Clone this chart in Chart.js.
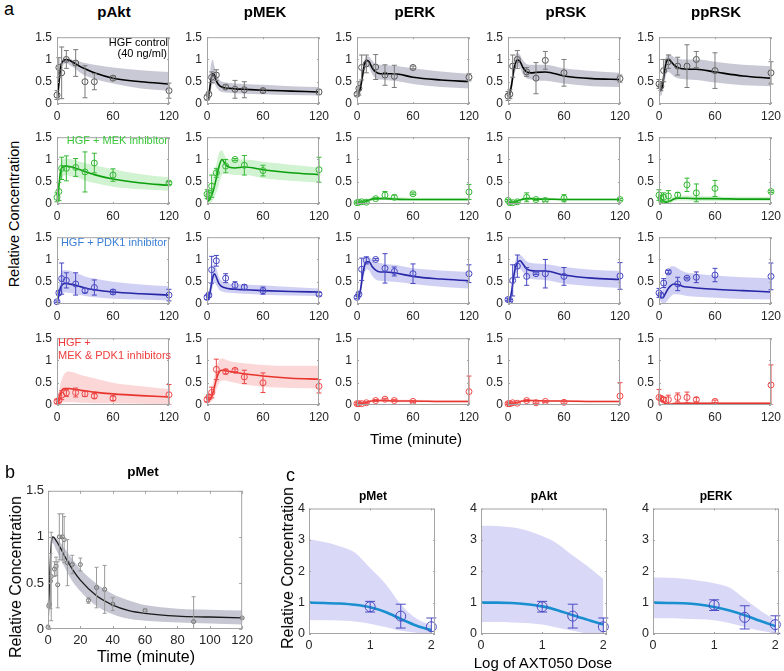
<!DOCTYPE html>
<html>
<head>
<meta charset="utf-8">
<script src="https://cdn.jsdelivr.net/npm/chart.js@4.4.1/dist/chart.umd.min.js"></script>
<style>
  body { margin: 0; background: #fff; width: 784px; height: 671px; position: relative; overflow: hidden;
         font-family: "Liberation Sans", Arial, sans-serif; }
  canvas { position: absolute; }
  .t { position: absolute; white-space: nowrap; line-height: 1; z-index: 2; }
  .c { transform: translate(-50%, -50%); }
  .r { transform: translate(-50%, -50%) rotate(-90deg); }
  .b { font-weight: bold; }
  .lg { font-size: 11px; }
</style>
</head>
<body>

<div class="t" style="left:4px;top:0px;font-size:18px;">a</div>
<div class="t" style="left:5px;top:463px;font-size:18px;">b</div>
<div class="t" style="left:286px;top:466px;font-size:18px;">c</div>

<div class="t c b" style="left:114px;top:11px;font-size:15px;">pAkt</div>
<div class="t c b" style="left:265px;top:11px;font-size:15px;">pMEK</div>
<div class="t c b" style="left:415px;top:11px;font-size:15px;">pERK</div>
<div class="t c b" style="left:566px;top:11px;font-size:15px;">pRSK</div>
<div class="t c b" style="left:716px;top:11px;font-size:15px;">ppRSK</div>

<div class="t r" style="left:14px;top:214px;font-size:14.5px;">Relative Concentration</div>
<div class="t c" style="left:416px;top:438px;font-size:15px;">Time (minute)</div>

<div class="t lg" style="right:616px;top:37px;">HGF control</div>
<div class="t lg" style="right:617px;top:48px;">(40 ng/ml)</div>
<div class="t lg" style="right:616px;top:135px;color:#3cc63c;">HGF + MEK inhibitor</div>
<div class="t lg" style="right:617px;top:237px;color:#3b7fd6;">HGF + PDK1 inhibitor</div>
<div class="t lg" style="left:58px;top:337px;color:#f03c3c;">HGF +</div>
<div class="t lg" style="left:58px;top:350px;color:#f03c3c;">MEK &amp; PDK1 inhibitors</div>

<div class="t c b" style="left:143px;top:472px;font-size:13.5px;">pMet</div>
<div class="t r" style="left:16px;top:577px;font-size:16px;">Relative Concentration</div>
<div class="t c" style="left:146px;top:657px;font-size:16px;">Time (minute)</div>

<div class="t c b" style="left:373px;top:496px;font-size:12px;">pMet</div>
<div class="t c b" style="left:544px;top:496px;font-size:12px;">pAkt</div>
<div class="t c b" style="left:716px;top:496px;font-size:12px;">pERK</div>
<div class="t r" style="left:288px;top:568px;font-size:16px;">Relative Concentration</div>
<div class="t c" style="left:543px;top:662px;font-size:15px;">Log of AXT050 Dose</div>

<script>
// ---- panel a: time courses, rows = conditions, columns = proteins ----
const proteins = ['pAkt', 'pMEK', 'pERK', 'pRSK', 'ppRSK'];
const fitT = [0, 2, 4, 6, 8, 10, 13, 16, 20, 25, 30, 40, 60, 90, 120];
const sampleT = [0, 2, 5, 10, 20, 30, 40, 60, 120];
const timeTicksA = [0, 60, 120];
const concTicksA = [0, 0.5, 1, 1.5];

// HGF control (40 ng/ml)
const ctrlFit = [
  [0, 0.45, 0.85, 0.95, 0.99, 1.0, 0.98, 0.95, 0.9, 0.84, 0.79, 0.7, 0.58, 0.5, 0.45],
  [0.1, 0.2, 0.5, 0.68, 0.65, 0.52, 0.42, 0.38, 0.36, 0.35, 0.34, 0.33, 0.31, 0.29, 0.27],
  [0.22, 0.25, 0.4, 0.65, 0.88, 0.98, 0.95, 0.82, 0.72, 0.68, 0.68, 0.68, 0.6, 0.54, 0.5],
  [0.2, 0.25, 0.45, 0.75, 0.92, 0.99, 0.95, 0.82, 0.72, 0.7, 0.71, 0.72, 0.63, 0.57, 0.55],
  [0.38, 0.3, 0.45, 0.75, 0.95, 1.0, 0.95, 0.88, 0.82, 0.79, 0.78, 0.78, 0.72, 0.63, 0.58]
];
const ctrlHi = [
  [0.12, 0.6, 0.95, 1.0, 1.02, 1.03, 1.02, 1.0, 0.98, 0.95, 0.92, 0.88, 0.82, 0.76, 0.72],
  [0.2, 0.4, 0.85, 1.0, 0.85, 0.68, 0.55, 0.5, 0.48, 0.47, 0.46, 0.45, 0.43, 0.4, 0.38],
  [0.3, 0.35, 0.55, 0.8, 1.0, 1.08, 1.06, 0.98, 0.9, 0.88, 0.87, 0.86, 0.8, 0.73, 0.68],
  [0.3, 0.38, 0.62, 0.95, 1.1, 1.15, 1.1, 0.98, 0.9, 0.88, 0.88, 0.88, 0.8, 0.74, 0.7],
  [0.5, 0.45, 0.65, 0.95, 1.08, 1.12, 1.1, 1.05, 1.02, 1.0, 1.0, 1.0, 0.95, 0.88, 0.85]
];
const ctrlLo = [
  [0, 0.3, 0.72, 0.85, 0.9, 0.92, 0.88, 0.84, 0.78, 0.7, 0.64, 0.56, 0.46, 0.35, 0.3],
  [0.02, 0.1, 0.3, 0.45, 0.45, 0.38, 0.3, 0.27, 0.26, 0.25, 0.24, 0.23, 0.22, 0.2, 0.19],
  [0.15, 0.17, 0.28, 0.5, 0.72, 0.85, 0.82, 0.68, 0.58, 0.55, 0.54, 0.52, 0.45, 0.38, 0.35],
  [0.1, 0.13, 0.3, 0.55, 0.75, 0.85, 0.8, 0.66, 0.58, 0.55, 0.53, 0.52, 0.46, 0.4, 0.38],
  [0.22, 0.18, 0.3, 0.5, 0.68, 0.72, 0.68, 0.62, 0.58, 0.56, 0.55, 0.54, 0.48, 0.42, 0.4]
];
const ctrlMean = [
  [0.2, 0.82, 0.7, 1.0, 0.92, 0.5, 0.5, 0.58, 0.3],
  [0.15, 0.22, 0.6, 0.65, 0.38, 0.33, 0.32, 0.3, 0.27],
  [0.22, 0.35, 0.82, 0.9, 0.83, 0.65, 0.62, 0.82, 0.6],
  [0.18, 0.22, 0.85, 1.0, 0.72, 0.58, 0.98, 0.7, 0.57],
  [0.45, 0.4, 0.75, 0.95, 0.85, 0.85, 1.0, 0.75, 0.7]
];
const ctrlErr = [
  [0.1, 0.22, 0.58, 0.2, 0.3, 0.36, 0.18, 0.05, 0.17],
  [0.06, 0.05, 0.12, 0.12, 0.05, 0.2, 0.18, 0.05, 0.06],
  [0.03, 0.15, 0.28, 0.2, 0.28, 0.23, 0.25, 0.03, 0.08],
  [0.1, 0.1, 0.25, 0.2, 0.1, 0.35, 0.2, 0.3, 0.08],
  [0.1, 0.1, 0.25, 0.15, 0.2, 0.48, 0.18, 0.4, 0.25]
];

// HGF + MEK inhibitor
const mekFit = [
  [0, 0.4, 0.75, 0.83, 0.85, 0.85, 0.84, 0.83, 0.8, 0.77, 0.73, 0.66, 0.56, 0.47, 0.42],
  [0.05, 0.08, 0.15, 0.25, 0.4, 0.58, 0.85, 1.0, 0.88, 0.82, 0.81, 0.83, 0.77, 0.7, 0.66],
  [0.03, 0.03, 0.04, 0.05, 0.06, 0.07, 0.09, 0.11, 0.12, 0.12, 0.12, 0.11, 0.1, 0.1, 0.1],
  [0.05, 0.04, 0.03, 0.04, 0.05, 0.07, 0.09, 0.11, 0.12, 0.12, 0.11, 0.11, 0.1, 0.1, 0.1],
  [0.15, 0.12, 0.08, 0.05, 0.04, 0.05, 0.08, 0.11, 0.13, 0.13, 0.13, 0.12, 0.12, 0.11, 0.11]
];
const mekHi = [
  [0.1, 0.6, 0.95, 1.0, 1.02, 1.02, 1.02, 1.0, 0.98, 0.95, 0.92, 0.87, 0.78, 0.67, 0.6],
  [0.2, 0.25, 0.35, 0.5, 0.7, 0.9, 1.15, 1.2, 1.05, 1.0, 1.0, 1.0, 0.95, 0.88, 0.82],
  [0.07, 0.07, 0.08, 0.09, 0.1, 0.11, 0.13, 0.15, 0.16, 0.16, 0.16, 0.15, 0.14, 0.14, 0.14],
  [0.08, 0.07, 0.06, 0.07, 0.08, 0.1, 0.12, 0.14, 0.15, 0.15, 0.14, 0.14, 0.13, 0.13, 0.13],
  [0.22, 0.2, 0.15, 0.12, 0.1, 0.11, 0.14, 0.17, 0.19, 0.19, 0.19, 0.18, 0.17, 0.16, 0.16]
];
const mekLo = [
  [0, 0.25, 0.55, 0.62, 0.64, 0.65, 0.63, 0.62, 0.6, 0.57, 0.53, 0.47, 0.39, 0.33, 0.3],
  [0, 0, 0.02, 0.08, 0.15, 0.25, 0.45, 0.65, 0.7, 0.66, 0.65, 0.65, 0.58, 0.52, 0.48],
  [0.01, 0.01, 0.01, 0.02, 0.03, 0.04, 0.06, 0.08, 0.09, 0.09, 0.09, 0.08, 0.07, 0.07, 0.07],
  [0.03, 0.02, 0.01, 0.02, 0.03, 0.05, 0.07, 0.08, 0.09, 0.09, 0.09, 0.08, 0.08, 0.08, 0.08],
  [0.1, 0.07, 0.03, 0.01, 0, 0, 0.03, 0.06, 0.08, 0.08, 0.08, 0.07, 0.07, 0.07, 0.07]
];
const mekMean = [
  [0.15, 0.28, 0.8, 0.8, 0.82, 0.72, 0.92, 0.65, 0.47],
  [0.22, 0.2, 0.4, 0.7, 0.85, 1.0, 0.87, 0.75, 0.77],
  [0.03, 0.04, 0.05, 0.04, 0.12, 0.2, 0.15, 0.23, 0.27],
  [0.08, 0.03, 0.03, 0.05, 0.15, 0.1, 0.08, 0.13, 0.1],
  [0.2, 0.12, 0.15, 0.18, 0.2, 0.43, 0.25, 0.35, 0.28]
];
const mekErr = [
  [0.1, 0.2, 0.25, 0.28, 0.2, 0.45, 0.22, 0.14, 0.03],
  [0.1, 0.1, 0.25, 0.1, 0.15, 0.02, 0.22, 0.12, 0.28],
  [0.01, 0.01, 0.02, 0.02, 0.02, 0.08, 0.05, 0.02, 0.17],
  [0.02, 0.02, 0.02, 0.02, 0.1, 0.02, 0.02, 0.08, 0.02],
  [0.12, 0.08, 0.1, 0.12, 0.06, 0.15, 0.2, 0.18, 0.02]
];

// HGF + PDK1 inhibitor
const pdkFit = [
  [0, 0.22, 0.38, 0.44, 0.46, 0.46, 0.45, 0.44, 0.42, 0.39, 0.36, 0.32, 0.27, 0.23, 0.2],
  [0.1, 0.15, 0.35, 0.58, 0.68, 0.6, 0.45, 0.39, 0.36, 0.34, 0.33, 0.32, 0.3, 0.28, 0.27],
  [0.15, 0.17, 0.35, 0.65, 0.85, 0.95, 0.95, 0.85, 0.76, 0.72, 0.72, 0.7, 0.62, 0.56, 0.52],
  [0.1, 0.11, 0.3, 0.6, 0.82, 0.93, 0.97, 0.9, 0.79, 0.75, 0.74, 0.74, 0.65, 0.58, 0.55],
  [0.2, 0.15, 0.14, 0.2, 0.28, 0.35, 0.42, 0.45, 0.44, 0.4, 0.38, 0.36, 0.33, 0.3, 0.27]
];
const pdkHi = [
  [0.1, 0.45, 0.68, 0.75, 0.76, 0.76, 0.75, 0.73, 0.7, 0.66, 0.62, 0.57, 0.5, 0.44, 0.4],
  [0.2, 0.28, 0.55, 0.82, 0.9, 0.8, 0.6, 0.52, 0.48, 0.46, 0.45, 0.44, 0.42, 0.38, 0.35],
  [0.2, 0.24, 0.5, 0.82, 1.0, 1.06, 1.06, 1.0, 0.95, 0.92, 0.9, 0.88, 0.8, 0.75, 0.72],
  [0.15, 0.17, 0.45, 0.78, 0.98, 1.08, 1.1, 1.05, 0.96, 0.92, 0.91, 0.9, 0.83, 0.77, 0.74],
  [0.3, 0.28, 0.35, 0.5, 0.65, 0.75, 0.85, 0.85, 0.8, 0.74, 0.7, 0.68, 0.64, 0.6, 0.58]
];
const pdkLo = [
  [0, 0.1, 0.2, 0.25, 0.26, 0.26, 0.25, 0.24, 0.22, 0.2, 0.18, 0.15, 0.12, 0.1, 0.08],
  [0.04, 0.07, 0.2, 0.38, 0.48, 0.42, 0.32, 0.28, 0.26, 0.25, 0.24, 0.23, 0.21, 0.19, 0.18],
  [0.1, 0.11, 0.22, 0.48, 0.68, 0.78, 0.75, 0.64, 0.55, 0.52, 0.51, 0.5, 0.45, 0.39, 0.35],
  [0.06, 0.06, 0.18, 0.42, 0.62, 0.74, 0.78, 0.72, 0.6, 0.56, 0.55, 0.54, 0.46, 0.4, 0.36],
  [0.1, 0.05, 0.02, 0.02, 0.05, 0.1, 0.18, 0.22, 0.22, 0.2, 0.18, 0.16, 0.14, 0.11, 0.1]
];
const pdkMean = [
  [0.05, 0.25, 0.57, 0.53, 0.45, 0.3, 0.37, 0.27, 0.2],
  [0.15, 0.2, 0.77, 0.97, 0.58, 0.42, 0.38, 0.3, 0.22],
  [0.15, 0.22, 0.78, 0.98, 1.0, 0.8, 0.73, 0.68, 0.68],
  [0.1, 0.08, 0.53, 0.85, 0.62, 0.68, 0.68, 0.62, 0.63],
  [0.25, 0.2, 0.47, 0.72, 0.45, 0.58, 0.6, 0.65, 0.62]
];
const pdkErr = [
  [0.02, 0.05, 0.35, 0.17, 0.25, 0.05, 0.17, 0.05, 0.13],
  [0.05, 0.05, 0.3, 0.12, 0.1, 0.08, 0.05, 0.08, 0.04],
  [0.03, 0.05, 0.25, 0.08, 0.02, 0.33, 0.1, 0.22, 0.2],
  [0.03, 0.02, 0.35, 0.25, 0.2, 0.02, 0.32, 0.2, 0.3],
  [0.1, 0.05, 0.1, 0.03, 0.15, 0.02, 0.12, 0.15, 0.3]
];

// HGF + MEK & PDK1 inhibitors
const bothFit = [
  [0, 0.12, 0.28, 0.35, 0.37, 0.37, 0.37, 0.36, 0.35, 0.33, 0.32, 0.29, 0.25, 0.21, 0.18],
  [0.1, 0.12, 0.16, 0.25, 0.4, 0.58, 0.74, 0.78, 0.77, 0.75, 0.73, 0.7, 0.65, 0.6, 0.58],
  [0.03, 0.03, 0.03, 0.04, 0.05, 0.06, 0.08, 0.09, 0.1, 0.1, 0.1, 0.09, 0.09, 0.08, 0.08],
  [0.03, 0.03, 0.03, 0.04, 0.05, 0.06, 0.08, 0.09, 0.1, 0.1, 0.1, 0.09, 0.09, 0.08, 0.08],
  [0.15, 0.12, 0.08, 0.04, 0.02, 0.01, 0.02, 0.03, 0.04, 0.04, 0.04, 0.04, 0.04, 0.04, 0.04]
];
const bothHi = [
  [0.08, 0.3, 0.5, 0.62, 0.7, 0.74, 0.75, 0.74, 0.72, 0.68, 0.65, 0.6, 0.5, 0.42, 0.36],
  [0.2, 0.22, 0.3, 0.45, 0.65, 0.85, 1.0, 1.05, 1.02, 0.98, 0.96, 0.94, 0.9, 0.88, 0.88],
  [0.05, 0.05, 0.05, 0.06, 0.07, 0.09, 0.11, 0.12, 0.13, 0.13, 0.13, 0.12, 0.12, 0.11, 0.11],
  [0.05, 0.05, 0.05, 0.06, 0.07, 0.08, 0.1, 0.11, 0.12, 0.12, 0.12, 0.11, 0.11, 0.1, 0.1],
  [0.2, 0.17, 0.13, 0.09, 0.06, 0.05, 0.05, 0.06, 0.07, 0.07, 0.07, 0.07, 0.07, 0.07, 0.07]
];
const bothLo = [
  [0, 0.02, 0.05, 0.06, 0.06, 0.06, 0.06, 0.06, 0.06, 0.05, 0.05, 0.04, 0.04, 0.03, 0.02],
  [0.04, 0.05, 0.07, 0.1, 0.2, 0.35, 0.5, 0.55, 0.55, 0.52, 0.5, 0.46, 0.41, 0.38, 0.37],
  [0.01, 0.01, 0.01, 0.02, 0.03, 0.04, 0.05, 0.06, 0.07, 0.07, 0.07, 0.07, 0.06, 0.06, 0.06],
  [0.01, 0.01, 0.01, 0.02, 0.03, 0.04, 0.06, 0.07, 0.08, 0.08, 0.08, 0.07, 0.07, 0.06, 0.06],
  [0.1, 0.07, 0.03, 0, 0, 0, 0, 0.01, 0.02, 0.02, 0.02, 0.02, 0.02, 0.02, 0.02]
];
const bothMean = [
  [0.08, 0.1, 0.22, 0.27, 0.28, 0.25, 0.2, 0.15, 0.23],
  [0.12, 0.18, 0.28, 0.8, 0.75, 0.78, 0.63, 0.5, 0.42],
  [0.03, 0.03, 0.03, 0.05, 0.1, 0.13, 0.1, 0.08, 0.3],
  [0.03, 0.03, 0.05, 0.04, 0.1, 0.05, 0.08, 0.06, 0.2],
  [0.17, 0.15, 0.12, 0.12, 0.17, 0.17, 0.12, 0.08, 0.45]
];
const bothErr = [
  [0.05, 0.05, 0.1, 0.08, 0.1, 0.06, 0.05, 0.05, 0.23],
  [0.05, 0.05, 0.12, 0.23, 0.05, 0.03, 0.15, 0.22, 0.15],
  [0.02, 0.02, 0.02, 0.02, 0.02, 0.02, 0.02, 0.02, 0.35],
  [0.02, 0.02, 0.02, 0.02, 0.02, 0.02, 0.02, 0.02, 0.3],
  [0.18, 0.05, 0.05, 0.1, 0.1, 0.12, 0.05, 0.03, 0.45]
];

// ---- panel b: pMet time course ----
const metFitT = [0, 1, 2, 3, 5, 8, 10, 15, 20, 30, 40, 50, 60, 80, 100, 120];
const metFit = [0, 0.55, 0.92, 1.0, 0.96, 0.87, 0.8, 0.65, 0.53, 0.36, 0.26, 0.2, 0.17, 0.14, 0.13, 0.12];
const metHi = [0.05, 0.6, 0.95, 1.01, 0.99, 0.93, 0.88, 0.76, 0.65, 0.49, 0.38, 0.31, 0.26, 0.22, 0.21, 0.2];
const metLo = [0, 0.45, 0.85, 0.93, 0.86, 0.75, 0.68, 0.52, 0.41, 0.25, 0.16, 0.11, 0.09, 0.07, 0.06, 0.05];
const metT = [0, 0.5, 1, 1.5, 2, 4, 5, 6, 7, 9, 10, 12, 15, 20, 25, 30, 35, 40, 60, 90, 120];
const metMean = [0.02, 0.25, 0.27, 0.52, 0.57, 0.65, 0.68, 0.48, 1.0, 1.0, 0.97, 0.72, 0.7, 0.7, 0.31, 0.45, 0.43, 0.27, 0.2, 0.08, 0.12];
const metErr = [0.02, 0.02, 0.03, 0.3, 0.48, 0.08, 0.1, 0.25, 0.25, 0.25, 0.25, 0.25, 0.1, 0.07, 0.03, 0.22, 0.26, 0.07, 0.02, 0.27, 0.01];
const timeTicksB = [0, 20, 40, 60, 80, 100, 120];

// ---- panel c: dose response (pMet, pAkt, pERK) ----
const doseTitles = ['pMet', 'pAkt', 'pERK'];
const doseX = [0, 0.25, 0.5, 0.75, 1, 1.25, 1.5, 1.75, 2];
const doseFit = [
  [1.0, 0.99, 0.97, 0.93, 0.85, 0.7, 0.48, 0.27, 0.12],
  [1.0, 1.0, 0.99, 0.95, 0.88, 0.76, 0.6, 0.45, 0.3],
  [1.0, 0.99, 0.98, 0.94, 0.86, 0.75, 0.6, 0.42, 0.25]
];
const doseHi = [
  [3.02, 2.93, 2.8, 2.6, 2.1, 1.6, 0.95, 0.5, 0.28],
  [3.45, 3.44, 3.4, 3.3, 3.12, 2.88, 2.5, 2.15, 1.75],
  [1.8, 1.79, 1.76, 1.7, 1.62, 1.48, 1.12, 0.75, 0.45]
];
const doseLo = [
  [0.45, 0.44, 0.43, 0.4, 0.33, 0.22, 0.1, 0.04, 0],
  [0.38, 0.38, 0.37, 0.35, 0.3, 0.2, 0.1, 0, -0.1],
  [0.5, 0.5, 0.49, 0.47, 0.44, 0.35, 0.22, 0.1, 0.02]
];
const doseT = [1, 1.5, 2];
const doseMean = [[0.87, 0.57, 0.23], [0.87, 0.57, 0.23], [0.92, 0.53, 0.3]];
const doseErr = [[0.17, 0.38, 0.28], [0.17, 0.38, 0.28], [0.17, 0.37, 0.28]];
const doseTicksX = [0, 1, 2];
const concTicksC = [0, 1, 2, 3, 4];

// row styles: control, MEK inh, PDK1 inh, both
const rowLine = ['#000000', '#0c9e0c', '#2626a6', '#e8342c'];
const rowBand = ['#c8c9d5', '#d2f3d2', '#d0d0f4', '#fbd7d7'];
const rowMark = ['#555555', '#33b833', '#4646c2', '#ee4646'];
const rowErr = ['#7a7a7a', '#33b833', '#4646c2', '#ee4646'];

const FONT = '"Liberation Sans", Arial, sans-serif';
const pairs = (xs, ys) => xs.map((x, i) => ({ x: x, y: ys[i] }));

// error bars + MATLAB-like box with inward ticks
const matlabAxes = {
  id: 'matlabAxes',
  afterDatasetsDraw(chart) {
    const { ctx, chartArea: a, scales: { x, y } } = chart;
    const o = chart.options.plugins.matlabAxes;
    ctx.save();
    ctx.beginPath();
    ctx.rect(a.left - 8, a.top, a.width + 16, a.height);
    ctx.clip();
    chart.data.datasets.forEach(ds => {
      if (!ds.errs) return;
      ctx.strokeStyle = ds.errColor;
      ctx.lineWidth = 1;
      ds.data.forEach((p, i) => {
        const px = x.getPixelForValue(p.x);
        const y1 = y.getPixelForValue(p.y - ds.errs[i]);
        const y2 = y.getPixelForValue(p.y + ds.errs[i]);
        ctx.beginPath();
        ctx.moveTo(px, y1); ctx.lineTo(px, y2);
        ctx.moveTo(px - ds.capW, y1); ctx.lineTo(px + ds.capW, y1);
        ctx.moveTo(px - ds.capW, y2); ctx.lineTo(px + ds.capW, y2);
        ctx.stroke();
      });
    });
    ctx.restore();

    ctx.save();
    ctx.strokeStyle = '#a4a4a4';
    ctx.lineWidth = 1;
    ctx.strokeRect(a.left + 0.5, a.top + 0.5, a.width - 1, a.height - 1);
    const tl = o.tickLen;
    ctx.beginPath();
    x.ticks.forEach(t => {
      const px = Math.round(x.getPixelForValue(t.value)) + 0.5;
      ctx.moveTo(px, a.bottom); ctx.lineTo(px, a.bottom - tl);
      ctx.moveTo(px, a.top); ctx.lineTo(px, a.top + tl);
    });
    y.ticks.forEach(t => {
      const py = Math.round(y.getPixelForValue(t.value)) + 0.5;
      ctx.moveTo(a.left, py); ctx.lineTo(a.left + tl, py);
      ctx.moveTo(a.right, py); ctx.lineTo(a.right - tl, py);
    });
    ctx.stroke();
    ctx.restore();
  }
};

function plotChart(box, s) {
  const padT = 8;
  const cv = document.createElement('canvas');
  cv.width = box.w + s.yW + s.padR;
  cv.height = box.h + padT + s.xH;
  cv.style.left = (box.l - s.yW) + 'px';
  cv.style.top = (box.t - padT) + 'px';
  document.body.appendChild(cv);

  const axis = (min, max, ticks, fit) => ({
    type: 'linear', min: min, max: max,
    grid: { display: false, drawTicks: false },
    border: { display: false },
    afterBuildTicks: sc => { sc.ticks = ticks.map(v => ({ value: v })); },
    afterFit: fit,
    ticks: { padding: s.tickPad, color: '#262626', font: { family: FONT, size: s.tickSize },
             maxRotation: 0, autoSkip: false, callback: v => String(v) }
  });

  new Chart(cv, {
    type: 'line',
    data: {
      datasets: [
        { data: pairs(s.fx, s.hi), fill: '+1', backgroundColor: s.band, borderColor: 'rgba(0,0,0,0)',
          pointRadius: 0, cubicInterpolationMode: 'monotone', order: 3 },
        { data: pairs(s.fx, s.lo), fill: false, borderColor: 'rgba(0,0,0,0)',
          pointRadius: 0, cubicInterpolationMode: 'monotone', order: 2 },
        { data: pairs(s.fx, s.fit), fill: false, borderColor: s.line, borderWidth: s.lw,
          pointRadius: 0, cubicInterpolationMode: 'monotone', order: 1 },
        { data: pairs(s.px, s.py), errs: s.pe, errColor: s.err, capW: s.cap, showLine: false,
          pointRadius: s.r, pointBorderColor: s.mark, pointBackgroundColor: 'rgba(0,0,0,0)',
          pointBorderWidth: 1, clip: false, order: 0 }
      ]
    },
    options: {
      responsive: false, animation: false, events: [],
      layout: { padding: { top: padT, right: s.padR, left: 0, bottom: 0 } },
      plugins: { legend: { display: false }, tooltip: { enabled: false },
                 matlabAxes: { tickLen: s.tickLen } },
      scales: {
        x: axis(s.xMin, s.xMax, s.xTicks, sc => { sc.height = s.xH; }),
        y: axis(s.yMin, s.yMax, s.yTicks, sc => { sc.width = s.yW; })
      }
    },
    plugins: [matlabAxes]
  });
}

// panel a grid
const colLeft = [57, 207, 357, 508, 659];
const rowTop = [33, 133, 233, 334];
const conds = [
  [ctrlFit, ctrlHi, ctrlLo, ctrlMean, ctrlErr],
  [mekFit, mekHi, mekLo, mekMean, mekErr],
  [pdkFit, pdkHi, pdkLo, pdkMean, pdkErr],
  [bothFit, bothHi, bothLo, bothMean, bothErr]
];
conds.forEach((c, r) => {
  proteins.forEach((p, k) => {
    plotChart({ l: colLeft[k], t: rowTop[r], w: 115, h: 71 }, {
      fx: fitT, fit: c[0][k], hi: c[1][k], lo: c[2][k],
      px: sampleT, py: c[3][k], pe: c[4][k],
      band: rowBand[r], line: rowLine[r], lw: 1.6, mark: rowMark[r], err: rowErr[r], r: 3, cap: 2.5,
      xMin: 0, xMax: 120, xTicks: timeTicksA, yMin: 0, yMax: 1.5, yTicks: concTicksA,
      yW: 24, xH: 19, padR: 12, tickSize: 12, tickPad: 5, tickLen: 2
    });
  });
});

// panel b
plotChart({ l: 48, t: 487, w: 195, h: 142 }, {
  fx: metFitT, fit: metFit, hi: metHi, lo: metLo,
  px: metT, py: metMean, pe: metErr,
  band: '#c6c7d3', line: '#1a1a1a', lw: 1.3, mark: '#666666', err: '#9a9a9a', r: 2, cap: 2,
  xMin: 0, xMax: 120, xTicks: timeTicksB, yMin: 0, yMax: 1.5, yTicks: concTicksA,
  yW: 28, xH: 20, padR: 14, tickSize: 13, tickPad: 4, tickLen: 3
});

// panel c
const doseLeft = [309, 481, 653];
doseTitles.forEach((name, k) => {
  plotChart({ l: doseLeft[k], t: 505, w: 126, h: 129 }, {
    fx: doseX, fit: doseFit[k], hi: doseHi[k], lo: doseLo[k],
    px: doseT, py: doseMean[k], pe: doseErr[k],
    band: '#d9d9f7', line: '#1a8fcf', lw: 2.6, mark: '#4a4ac4', err: '#4a4ac4', r: 5, cap: 5,
    xMin: 0, xMax: 2.06, xTicks: doseTicksX, yMin: 0, yMax: 4, yTicks: concTicksC,
    yW: 22, xH: 20, padR: 8, tickSize: 12.5, tickPad: 4, tickLen: 2
  });
});
</script>
</body>
</html>
